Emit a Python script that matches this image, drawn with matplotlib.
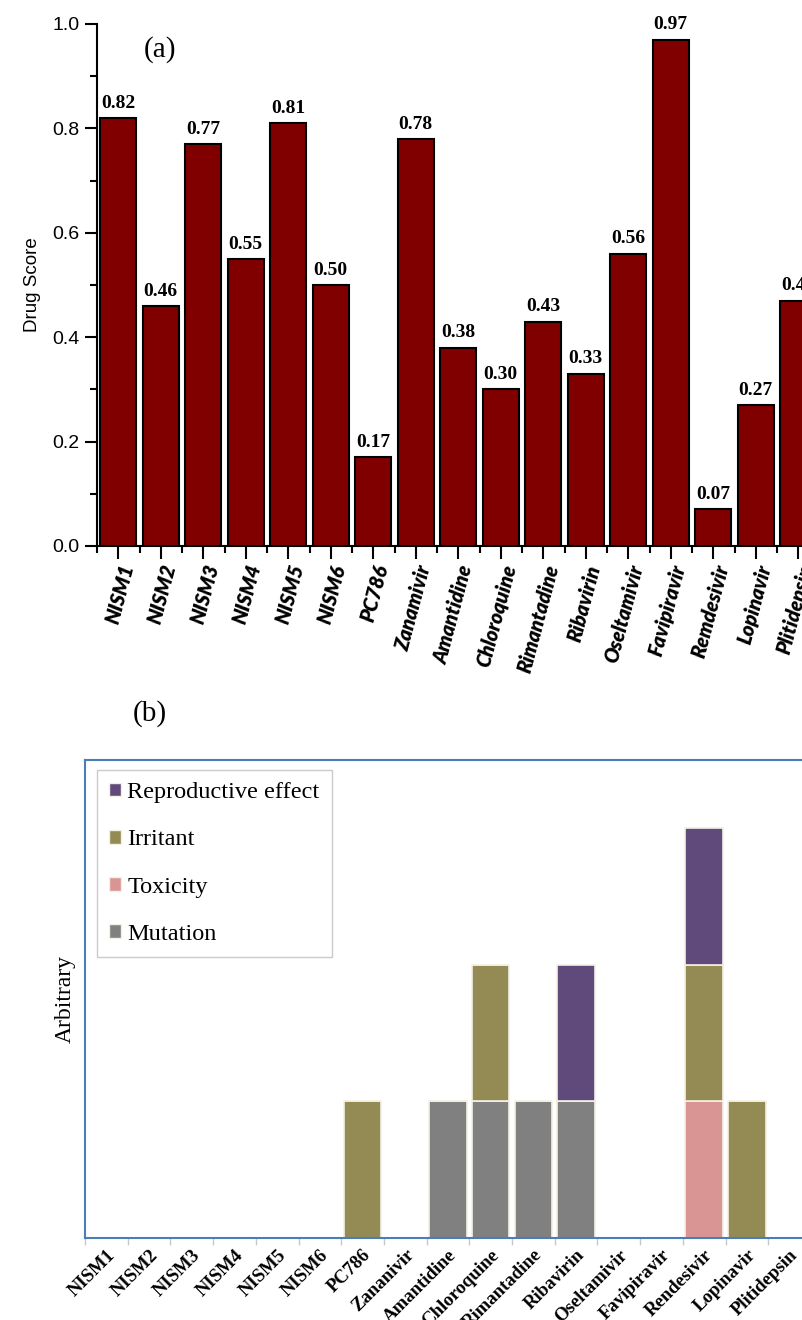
import matplotlib
matplotlib.use("Agg")
import matplotlib.pyplot as plt
import numpy as np
from matplotlib.ticker import MultipleLocator, FixedLocator
from matplotlib.patches import Patch

# ---------------- data ----------------
drugs_a = ["NISM1", "NISM2", "NISM3", "NISM4", "NISM5", "NISM6", "PC786",
           "Zanamivir", "Amantidine", "Chloroquine", "Rimantadine", "Ribavirin",
           "Oseltamivir", "Favipiravir", "Remdesivir", "Lopinavir", "Plitidepsin"]
drug_score = [0.82, 0.46, 0.77, 0.55, 0.81, 0.50, 0.17, 0.78, 0.38, 0.30,
              0.43, 0.33, 0.56, 0.97, 0.07, 0.27, 0.47]

drugs_b = ["NISM1", "NISM2", "NISM3", "NISM4", "NISM5", "NISM6", "PC786",
           "Zananivir", "Amantidine", "Chloroquine", "Rimantadine", "Ribavirin",
           "Oseltamivir", "Favipiravir", "Rendesivir", "Lopinavir", "Plitidepsin"]
mutation     = [0, 0, 0, 0, 0, 0, 0, 0, 1, 1, 1, 1, 0, 0, 0, 0, 0]
toxicity     = [0, 0, 0, 0, 0, 0, 0, 0, 0, 0, 0, 0, 0, 0, 1, 0, 0]
irritant     = [0, 0, 0, 0, 0, 0, 1, 0, 0, 1, 0, 0, 0, 0, 1, 1, 0]
reproductive = [0, 0, 0, 0, 0, 0, 0, 0, 0, 0, 0, 1, 0, 0, 1, 0, 0]

W, H = 803, 1320
fig = plt.figure(figsize=(W / 100, H / 100), dpi=100)

def box(x0, y0, x1, y1):
    return [x0 / W, 1 - y1 / H, (x1 - x0) / W, (y1 - y0) / H]

# ---------------- panel (a) ----------------
axa = fig.add_axes(box(97, 24, 97 + 17 * 42.5, 546))
xa = np.arange(len(drugs_a))
axa.bar(xa, drug_score, width=0.85, color="#800000", edgecolor="black", linewidth=1.5, zorder=3)
for x, v in zip(xa, drug_score):
    axa.text(x, v + 0.012, f"{v:.2f}", ha="center", va="bottom",
             fontsize=14, fontweight="bold", family="Liberation Serif")
axa.set_xlim(-0.5, 16.5)
axa.set_ylim(0, 1.0)
axa.yaxis.set_major_locator(MultipleLocator(0.2))
axa.yaxis.set_minor_locator(MultipleLocator(0.1))
axa.set_xticks(xa)
axa.xaxis.set_minor_locator(FixedLocator(np.arange(-0.5, 17, 1.0)))
axa.set_xticklabels(drugs_a, rotation=75, ha="right", va="top", rotation_mode="anchor",
                    fontsize=14.5, fontweight="heavy", fontstyle="italic", family="Lato")
for lab in axa.get_yticklabels():
    lab.set_family("Liberation Sans")
    lab.set_fontsize(14)
axa.tick_params(axis="both", which="major", length=9, width=1.5, direction="out")
axa.tick_params(axis="both", which="minor", length=5, width=1.5, direction="out")
axa.tick_params(axis="x", which="major", pad=3)
axa.set_ylabel("Drug Score", fontsize=13.5, family="Liberation Sans", labelpad=8)
for s in ["top", "right"]:
    axa.spines[s].set_visible(False)
for s in ["left", "bottom"]:
    axa.spines[s].set_linewidth(1.5)
fig.text(160 / W, 1 - 50 / H, "(a)", fontsize=21, family="Liberation Serif", ha="center", va="center")

# ---------------- panel (b) ----------------
frame_c = "#4a7ebb"
axb = fig.add_axes(box(85, 760, 85 + 17 * 42.7, 1238))
xb = np.arange(len(drugs_b))
c_mut, c_tox, c_irr, c_rep = "#808080", "#d99594", "#948a54", "#604a7b"
ec = "#f3f1e4"
bw = 0.88
mut = np.array(mutation, float)
tox = np.array(toxicity, float)
irr = np.array(irritant, float)
rep = np.array(reproductive, float)
axb.bar(xb, mut, width=bw, color=c_mut, edgecolor=ec, linewidth=1.2, label="Mutation")
axb.bar(xb, tox, width=bw, bottom=mut, color=c_tox, edgecolor=ec, linewidth=1.2, label="Toxicity")
axb.bar(xb, irr, width=bw, bottom=mut + tox, color=c_irr, edgecolor=ec, linewidth=1.2, label="Irritant")
axb.bar(xb, rep, width=bw, bottom=mut + tox + irr, color=c_rep, edgecolor=ec, linewidth=1.2,
        label="Reproductive effect")
axb.set_xlim(-0.5, 16.5)
axb.set_ylim(0, 3.5)
axb.set_yticks([])
axb.set_xticks(xb)
axb.xaxis.set_minor_locator(FixedLocator(np.arange(-0.5, 17, 1.0)))
axb.tick_params(axis="x", which="major", length=0, pad=6)
axb.tick_params(axis="x", which="minor", length=5, width=1, color="#c8c8c8")
axb.set_xticklabels(drugs_b, rotation=45, ha="right", va="top", rotation_mode="anchor",
                    fontsize=13.5, fontweight="bold", family="Liberation Serif")
for s in axb.spines.values():
    s.set_color(frame_c)
    s.set_linewidth(1.5)
axb.set_ylabel("Arbitrary", fontsize=17, family="Liberation Serif", labelpad=7)

handles = [Patch(facecolor=c_rep, edgecolor=ec), Patch(facecolor=c_irr, edgecolor=ec),
           Patch(facecolor=c_tox, edgecolor=ec), Patch(facecolor=c_mut, edgecolor=ec)]
labels = ["Reproductive effect", "Irritant", "Toxicity", "Mutation"]
leg = axb.legend(handles, labels, loc="upper left", bbox_to_anchor=(12 / (17 * 42.7), 1 - 10 / 478),
                 prop={"family": "Liberation Serif", "size": 17.5}, frameon=True, fancybox=False,
                 edgecolor="#bfbfbf", handlelength=0.5, handleheight=0.5, handletextpad=0.25,
                 labelspacing=1.08, borderpad=0.5, borderaxespad=0)
leg.get_frame().set_linewidth(1.0)

fig.text(150 / W, 1 - 714 / H, "(b)", fontsize=21, family="Liberation Serif", ha="center", va="center")

fig.savefig("out.png", dpi=100)
